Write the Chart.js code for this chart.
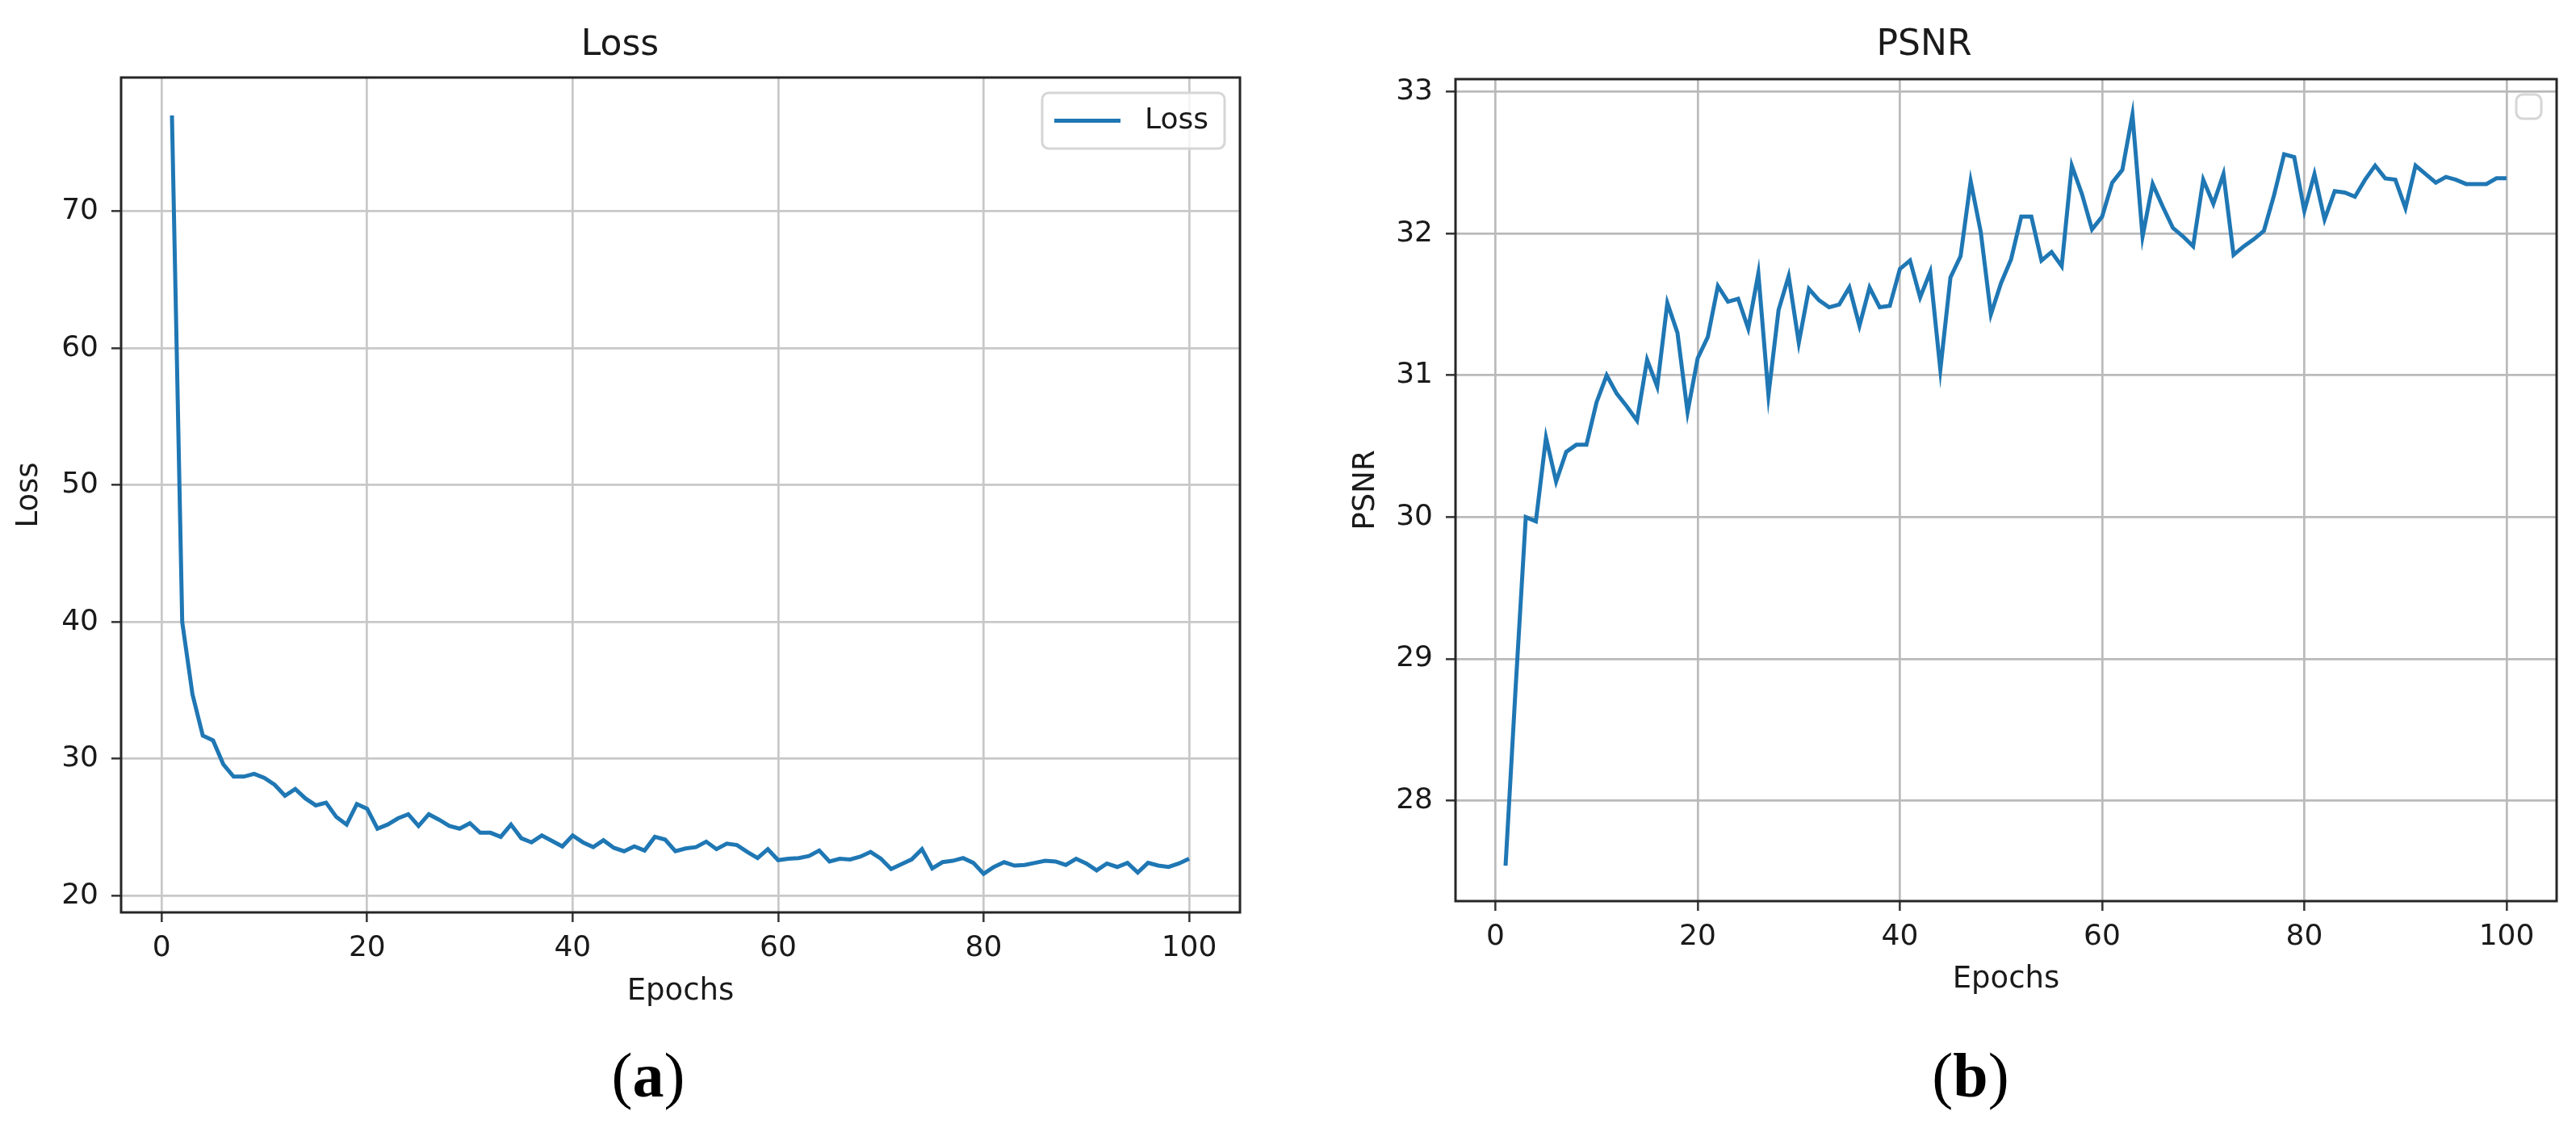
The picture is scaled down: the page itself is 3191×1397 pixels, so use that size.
<!DOCTYPE html>
<html>
<head>
<meta charset="utf-8">
<script src="https://cdn.jsdelivr.net/npm/chart.js@4.4.1/dist/chart.umd.min.js"></script>
<style>
  html, body { margin: 0; padding: 0; background: #fff; }
  body { width: 3191px; height: 1397px; position: relative; overflow: hidden; }
  canvas { position: absolute; top: 0; }
  #cLoss { left: 0; }
  #cPsnr { left: 1600px; }
  .cap { position: absolute; top: 1290px; font-family: "Liberation Serif", "DejaVu Serif", serif;
         font-size: 78px; line-height: 84px; color: #000; transform: translateX(-50%); }
  .cap b { font-weight: bold; }
</style>
</head>
<body>
<canvas id="cLoss" width="1600" height="1280"></canvas>
<canvas id="cPsnr" width="1591" height="1280"></canvas>
<div class="cap" style="left:803px">(<b>a</b>)</div>
<div class="cap" style="left:2441px">(<b>b</b>)</div>
<script>
// ── datos ─────────────────────────────────────────────────
var EPOCHS = [];
for (var i = 1; i <= 100; i++) EPOCHS.push(i);

var LOSS = [
  77.0, 40.0, 34.7, 31.7, 31.35, 29.6, 28.7, 28.7, 28.9, 28.6,
  28.1, 27.3, 27.8, 27.1, 26.6, 26.8, 25.75, 25.2, 26.7, 26.35,
  24.9, 25.2, 25.65, 25.95, 25.1, 25.95, 25.55, 25.1, 24.9, 25.3,
  24.6, 24.6, 24.3, 25.2, 24.2, 23.9, 24.4, 24.0, 23.6, 24.4,
  23.9, 23.55, 24.05, 23.5, 23.25, 23.6, 23.3, 24.3, 24.1, 23.25,
  23.45, 23.55, 23.95, 23.4, 23.8, 23.7, 23.2, 22.75, 23.4, 22.6,
  22.7, 22.75, 22.9, 23.3, 22.5, 22.7, 22.65, 22.85, 23.2, 22.7,
  21.95, 22.3, 22.65, 23.4, 22.0, 22.45, 22.55, 22.75, 22.4, 21.6,
  22.1, 22.45, 22.2, 22.25, 22.4, 22.55, 22.5, 22.25, 22.7, 22.35,
  21.85, 22.35, 22.1, 22.4, 21.7, 22.4, 22.2, 22.1, 22.35, 22.7
];

var PSNR = [
  27.54, 28.8, 30.0, 29.97, 30.56, 30.25, 30.46, 30.51, 30.51, 30.81,
  31.0, 30.87, 30.78, 30.68, 31.11, 30.92, 31.51, 31.30, 30.74, 31.12,
  31.27, 31.63, 31.52, 31.54, 31.33, 31.72, 30.86, 31.46, 31.70, 31.23,
  31.61, 31.53, 31.48, 31.50, 31.62, 31.35, 31.62, 31.48, 31.49, 31.75,
  31.81, 31.55, 31.73, 31.04, 31.69, 31.84, 32.37, 32.01, 31.43, 31.65,
  31.82, 32.12, 32.12, 31.81, 31.87, 31.77, 32.48, 32.28, 32.03, 32.12,
  32.36, 32.45, 32.84, 31.98, 32.35, 32.19, 32.04, 31.98, 31.91, 32.38,
  32.21, 32.42, 31.85, 31.91, 31.96, 32.02, 32.27, 32.56, 32.54, 32.16,
  32.42, 32.10, 32.30, 32.29, 32.26, 32.38, 32.48, 32.39, 32.38, 32.18,
  32.48, 32.42, 32.36, 32.40, 32.38, 32.35, 32.35, 32.35, 32.39, 32.39
];

var X_TICKS = [0, 20, 40, 60, 80, 100];
var LOSS_TICKS = [20, 30, 40, 50, 60, 70];
var PSNR_TICKS = [28, 29, 30, 31, 32, 33];

// ── estilo tipo matplotlib ───────────────────────────────
var FONT = '"DejaVu Sans", sans-serif';
var BLUE = '#1f77b4';
var TXT = '#1a1a1a';

function pts(ys) {
  return EPOCHS.map(function (e, k) { return { x: e, y: ys[k] }; });
}

// marco de los 4 lados + leyenda dentro del área
var framePlugin = {
  id: 'frame',
  afterDraw: function (chart, args, o) {
    var ctx = chart.ctx, a = chart.chartArea;
    ctx.save();
    var bx = a.right - o.gap - o.boxW, by = a.top + o.gap;
    ctx.fillStyle = 'rgba(255,255,255,0.8)';
    ctx.strokeStyle = '#d6d6d6';
    ctx.lineWidth = 3;
    ctx.beginPath();
    ctx.roundRect(bx, by, o.boxW, o.boxH, 8);
    ctx.fill(); ctx.stroke();
    if (o.label) {
      var cy = by + o.boxH / 2;
      ctx.strokeStyle = BLUE; ctx.lineWidth = 5;
      ctx.beginPath(); ctx.moveTo(bx + 15, cy); ctx.lineTo(bx + 97, cy); ctx.stroke();
      ctx.fillStyle = TXT; ctx.font = '36px ' + FONT;
      ctx.textBaseline = 'middle'; ctx.textAlign = 'left';
      ctx.fillText(o.label, bx + 127, cy);
    }
    ctx.strokeStyle = '#262626'; ctx.lineWidth = 3;
    ctx.strokeRect(a.left, a.top, a.right - a.left, a.bottom - a.top);
    ctx.restore();
  }
};

function makeChart(id, cfg) {
  return new Chart(document.getElementById(id), {
    type: 'line',
    data: { datasets: [{ label: cfg.title, data: pts(cfg.values), borderColor: BLUE,
      borderWidth: 5, pointRadius: 0, tension: 0, fill: false }] },
    plugins: [framePlugin],
    options: {
      responsive: false, animation: false,
      layout: { padding: { left: 0, right: cfg.padRight, top: 0, bottom: 0 } },
      plugins: {
        legend: { display: false }, tooltip: { enabled: false },
        title: { display: true, text: cfg.title, color: TXT,
          font: { family: FONT, size: 44, weight: 'normal' },
          padding: { top: 30, bottom: cfg.titleBottom } },
        frame: cfg.legend
      },
      scales: {
        x: {
          type: 'linear', min: -3.95, max: 104.95,
          afterFit: function (s) { s.height = cfg.xAxisH; },
          afterBuildTicks: function (s) { s.ticks = X_TICKS.map(function (v) { return { value: v }; }); },
          grid: { color: cfg.gridColor, lineWidth: 2.7, tickColor: '#333', tickLength: 12, tickWidth: 2.5 },
          border: { display: false },
          ticks: { color: TXT, padding: 11, maxRotation: 0, font: { family: FONT, size: 36 } },
          title: { display: true, text: 'Epochs', color: TXT, font: { family: FONT, size: 37 },
            padding: { top: 0, bottom: cfg.xTitlePad } }
        },
        y: {
          type: 'linear', min: cfg.yMin, max: cfg.yMax,
          afterFit: function (s) { s.width = cfg.yAxisW; },
          afterBuildTicks: function (s) { s.ticks = cfg.yTicks.map(function (v) { return { value: v }; }); },
          grid: { color: cfg.gridColor, lineWidth: 2.7, tickColor: '#333', tickLength: 12, tickWidth: 2.5 },
          border: { display: false },
          ticks: { color: TXT, padding: 16, font: { family: FONT, size: 36 } },
          title: { display: true, text: cfg.title, color: TXT, font: { family: FONT, size: 37 },
            padding: { top: cfg.yTitlePad, bottom: 0 } }
        }
      }
    }
  });
}

makeChart('cLoss', {
  title: 'Loss', values: LOSS, yTicks: LOSS_TICKS, yMin: 18.78, yMax: 79.77,
  padRight: 64, titleBottom: 13.2, xAxisH: 150, yAxisW: 150,
  xTitlePad: 29.8, yTitlePad: 13.8, gridColor: '#c8c8c8',
  legend: { label: 'Loss', boxW: 226, boxH: 69, gap: 19 }
});

makeChart('cPsnr', {
  title: 'PSNR', values: PSNR, yTicks: PSNR_TICKS, yMin: 27.29, yMax: 33.09,
  padRight: 24, titleBottom: 15.2, xAxisH: 164, yAxisW: 203,
  xTitlePad: 44.8, yTitlePad: 70, gridColor: '#bababa',
  legend: { label: '', boxW: 31, boxH: 30, gap: 19 }
});
</script>
</body>
</html>
